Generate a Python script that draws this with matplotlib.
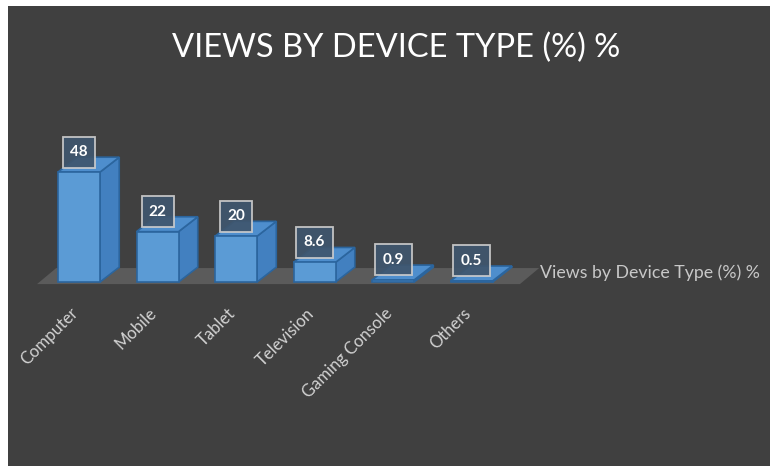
import numpy as np
import matplotlib.pyplot as plt
from matplotlib.patches import Polygon, Rectangle

categories = ['Computer', 'Mobile', 'Tablet', 'Television', 'Gaming Console', 'Others']
values = [48, 22, 20, 8.6, 0.9, 0.5]
series_name = 'Views by Device Type (%) %'
title = 'VIEWS BY DEVICE TYPE (%) %'

plt.rcParams['font.family'] = ['Lato', 'DejaVu Sans']

bg = '#404040'
front_c = '#5b9bd5'
side_c = '#4280c0'
top_c = '#4e8ecd'
edge_c = '#2b659e'

fig = plt.figure(figsize=(7.7, 4.66), dpi=100)
fig.patch.set_facecolor('white')
ax = fig.add_axes([8 / 770, 0, 762 / 770, 460 / 466])
ax.set_facecolor(bg)
ax.set_xlim(-0.904, 8.80)
ax.set_ylim(-80.3, 120.5)
ax.set_xticks([])
ax.set_yticks([])
for s in ax.spines.values():
    s.set_visible(False)

# pixel -> data unit helpers (axes is 762 x 460 px)
px_x = (8.80 + 0.904) / 762
px_y = (120.5 + 80.3) / 460

# depth offset of the 3d look, in data units
dx, dy = 0.245, 6.5
w = 0.535
n = len(categories)
x = np.arange(n)

# floor slab
floor = Polygon([(-w, -0.9), (n - 1 + w + 0.08, -0.9),
                 (n - 1 + w + 0.08 + dx, -0.9 + dy + 0.5), (-w + dx, -0.9 + dy + 0.5)],
                closed=True, facecolor='#5b5b5b', edgecolor='none', zorder=1)
ax.add_patch(floor)

bars = ax.bar(x, values, width=w, color=front_c, edgecolor=edge_c, linewidth=1.2, zorder=3)
for b, v in zip(bars, values):
    x0 = b.get_x()
    x1 = x0 + b.get_width()
    xc = x0 + b.get_width() / 2
    side = Polygon([(x1, 0), (x1 + dx, dy), (x1 + dx, v + dy), (x1, v)],
                   closed=True, facecolor=side_c, edgecolor=edge_c, linewidth=1.2, zorder=2)
    top = Polygon([(x0, v), (x1, v), (x1 + dx, v + dy), (x0 + dx, v + dy)],
                  closed=True, facecolor=top_c, edgecolor=edge_c, linewidth=1.2, zorder=2)
    ax.add_patch(side)
    ax.add_patch(top)

    lab = f'{v:g}'
    bw = (22 + 5 * len(lab)) * px_x
    bh = 31 * px_y
    yc = v + 20 * px_y
    ax.add_patch(Rectangle((xc - bw / 2, yc - bh / 2), bw, bh, facecolor='#3f566e',
                           edgecolor='#cdcdcd', linewidth=1.3, alpha=0.92, zorder=4))
    ax.text(xc, yc, lab, ha='center', va='center', color='white',
            fontsize=11, fontweight='bold', zorder=5)

for i, c in enumerate(categories):
    ax.text(i - 0.04, -12.5, c, rotation=45, rotation_mode='anchor', ha='right', va='center',
            color='#d2d2d2', fontsize=12)

ax.text(5.87, 4, series_name, ha='left', va='center', color='#c8c8c8', fontsize=12.8)

fig.text(396 / 770, 1 - 48 / 466, title, ha='center', va='center', color='white', fontsize=23.5)

fig.savefig('out.png', dpi=100, facecolor=fig.get_facecolor())
